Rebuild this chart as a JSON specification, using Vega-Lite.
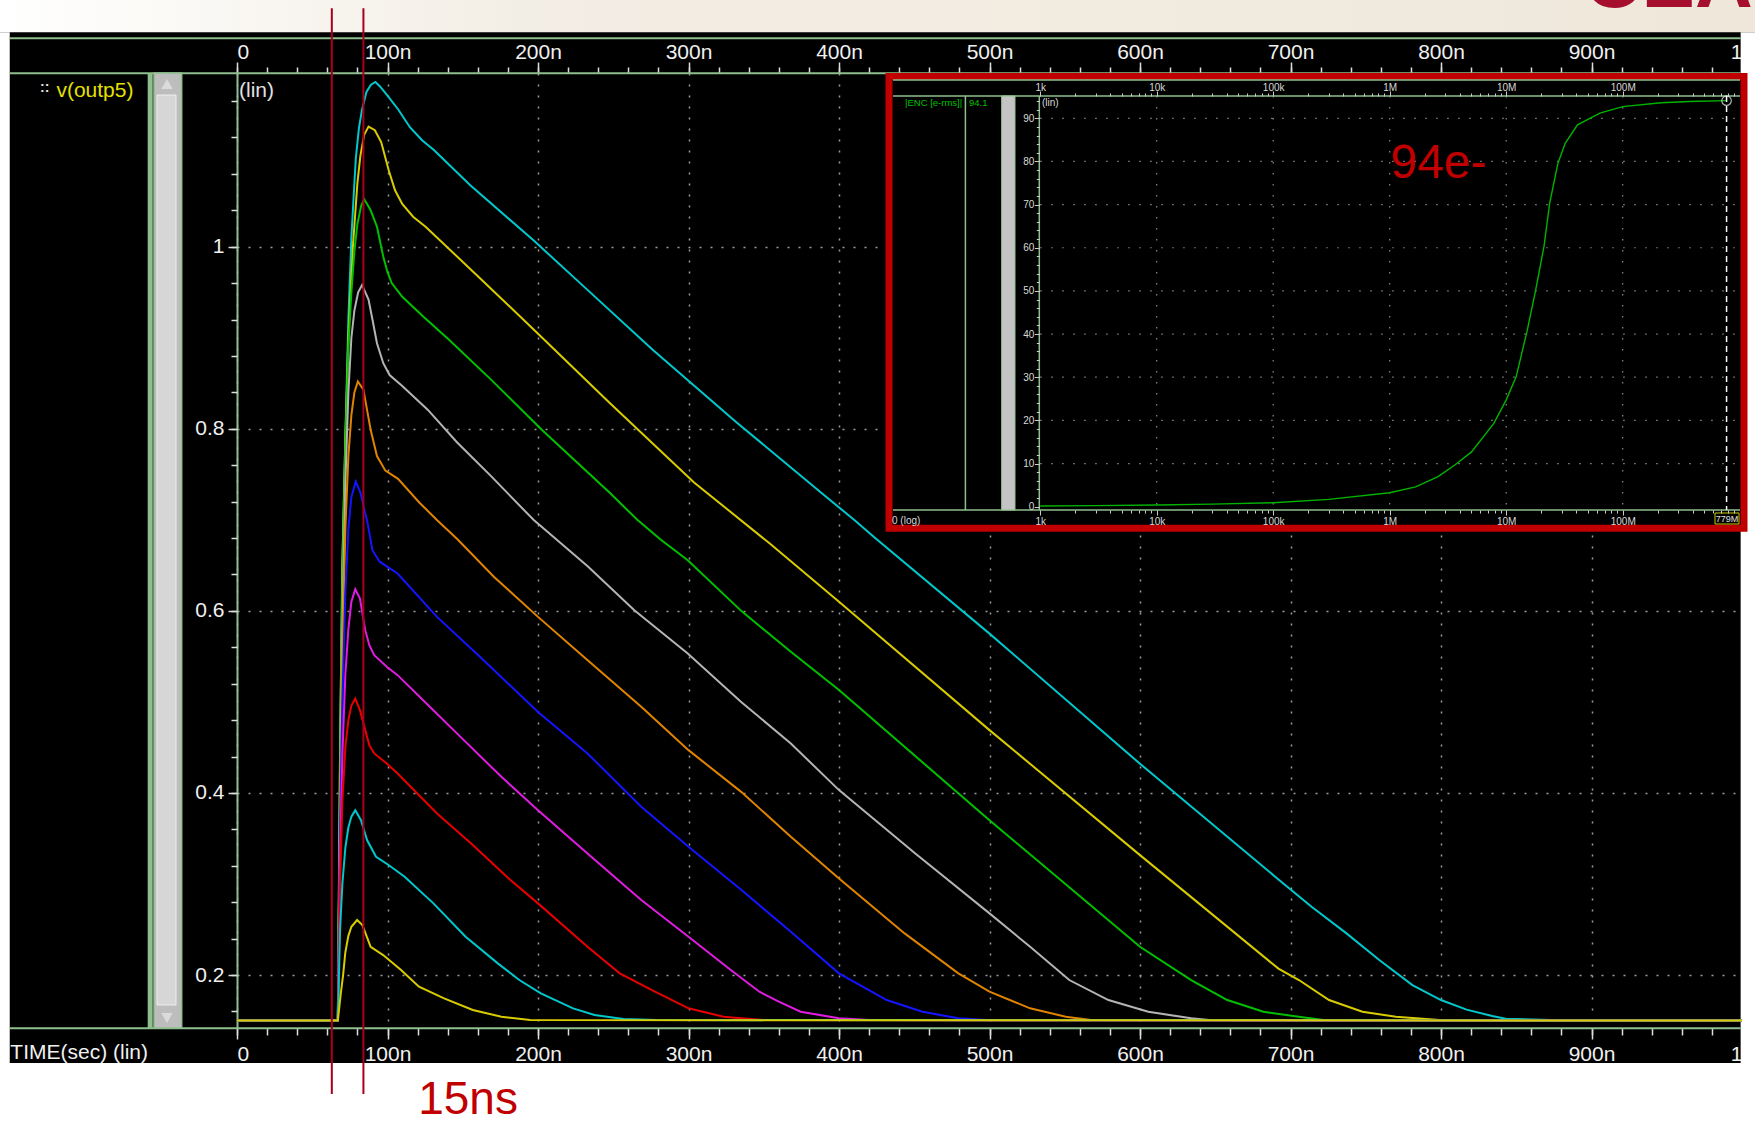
{
"$schema":"https://vega.github.io/schema/vega-lite/v6.json",
"width":1505,"height":955,
"autosize":"none",
"padding":{"left":237,"top":73,"right":13,"bottom":97},
"background":"#000000",
"config":{"view":{"stroke":null}},
"datasets":{
"curves":[
{"run":1,"t":0,"v":0.15},{"run":1,"t":67,"v":0.15},{"run":1,"t":68.5,"v":0.45},{"run":1,"t":70,"v":0.65},{"run":1,"t":72,"v":0.79},{"run":1,"t":74,"v":0.92},{"run":1,"t":76,"v":1.01},{"run":1,"t":78,"v":1.07},{"run":1,"t":79,"v":1.098},{"run":1,"t":81,"v":1.13},{"run":1,"t":83,"v":1.15},{"run":1,"t":86,"v":1.17},{"run":1,"t":89,"v":1.178},{"run":1,"t":92,"v":1.181},{"run":1,"t":95,"v":1.176},{"run":1,"t":100,"v":1.166},{"run":1,"t":107,"v":1.151},{"run":1,"t":115,"v":1.131},{"run":1,"t":123,"v":1.117},{"run":1,"t":131,"v":1.106},{"run":1,"t":155,"v":1.0675},{"run":1,"t":197,"v":1.007},{"run":1,"t":228,"v":0.96},{"run":1,"t":276,"v":0.887},{"run":1,"t":332,"v":0.807},{"run":1,"t":388,"v":0.73},{"run":1,"t":410,"v":0.7},{"run":1,"t":424,"v":0.68},{"run":1,"t":500,"v":0.575},{"run":1,"t":600,"v":0.432},{"run":1,"t":692,"v":0.305},{"run":1,"t":714,"v":0.275},{"run":1,"t":737,"v":0.246},{"run":1,"t":759,"v":0.2165},{"run":1,"t":781,"v":0.189},{"run":1,"t":800,"v":0.1725},{"run":1,"t":817,"v":0.162},{"run":1,"t":834,"v":0.155},{"run":1,"t":843,"v":0.152},{"run":1,"t":873,"v":0.1505},{"run":1,"t":1000,"v":0.15},
{"run":2,"t":0,"v":0.15},{"run":2,"t":67,"v":0.15},{"run":2,"t":68.5,"v":0.45},{"run":2,"t":70,"v":0.65},{"run":2,"t":72,"v":0.79},{"run":2,"t":74,"v":0.9},{"run":2,"t":77,"v":1.0},{"run":2,"t":80,"v":1.07},{"run":2,"t":82,"v":1.1},{"run":2,"t":84.5,"v":1.123},{"run":2,"t":87.4,"v":1.132},{"run":2,"t":91.6,"v":1.128},{"run":2,"t":95.8,"v":1.115},{"run":2,"t":100.8,"v":1.084},{"run":2,"t":105,"v":1.062},{"run":2,"t":109.8,"v":1.047},{"run":2,"t":117,"v":1.033},{"run":2,"t":125.3,"v":1.022},{"run":2,"t":160.4,"v":0.967},{"run":2,"t":199.7,"v":0.905},{"run":2,"t":247.5,"v":0.8285},{"run":2,"t":303.7,"v":0.741},{"run":2,"t":354,"v":0.674},{"run":2,"t":400,"v":0.61},{"run":2,"t":500,"v":0.469},{"run":2,"t":600,"v":0.3317},{"run":2,"t":692,"v":0.207},{"run":2,"t":705.6,"v":0.1945},{"run":2,"t":725.6,"v":0.1725},{"run":2,"t":747.8,"v":0.1597},{"run":2,"t":770,"v":0.1542},{"run":2,"t":799,"v":0.1505},{"run":2,"t":1000,"v":0.15},
{"run":3,"t":0,"v":0.15},{"run":3,"t":67,"v":0.15},{"run":3,"t":68.5,"v":0.42},{"run":3,"t":70,"v":0.62},{"run":3,"t":72,"v":0.78},{"run":3,"t":74,"v":0.89},{"run":3,"t":76,"v":0.95},{"run":3,"t":78,"v":0.995},{"run":3,"t":80,"v":1.025},{"run":3,"t":82.5,"v":1.045},{"run":3,"t":84.6,"v":1.052},{"run":3,"t":88.8,"v":1.04},{"run":3,"t":93,"v":1.022},{"run":3,"t":97.2,"v":0.989},{"run":3,"t":100,"v":0.972},{"run":3,"t":102.8,"v":0.96},{"run":3,"t":109.8,"v":0.945},{"run":3,"t":123.9,"v":0.923},{"run":3,"t":140.7,"v":0.898},{"run":3,"t":168.8,"v":0.854},{"run":3,"t":202.5,"v":0.799},{"run":3,"t":247.5,"v":0.73},{"run":3,"t":266,"v":0.7},{"run":3,"t":281,"v":0.679},{"run":3,"t":299.5,"v":0.6556},{"run":3,"t":335,"v":0.6},{"run":3,"t":368,"v":0.555},{"run":3,"t":400,"v":0.513},{"run":3,"t":500,"v":0.37},{"run":3,"t":600,"v":0.231},{"run":3,"t":634,"v":0.1945},{"run":3,"t":658,"v":0.1725},{"run":3,"t":682,"v":0.1597},{"run":3,"t":705.5,"v":0.1542},{"run":3,"t":722,"v":0.1505},{"run":3,"t":1000,"v":0.15},
{"run":4,"t":0,"v":0.15},{"run":4,"t":67,"v":0.15},{"run":4,"t":68.5,"v":0.4},{"run":4,"t":70,"v":0.58},{"run":4,"t":72,"v":0.74},{"run":4,"t":74,"v":0.84},{"run":4,"t":76,"v":0.9},{"run":4,"t":78,"v":0.93},{"run":4,"t":80.5,"v":0.95},{"run":4,"t":83.1,"v":0.958},{"run":4,"t":87.4,"v":0.942},{"run":4,"t":90,"v":0.92},{"run":4,"t":93,"v":0.894},{"run":4,"t":97.2,"v":0.872},{"run":4,"t":101.4,"v":0.859},{"run":4,"t":109.8,"v":0.847},{"run":4,"t":126.7,"v":0.821},{"run":4,"t":146.3,"v":0.785},{"run":4,"t":168.8,"v":0.748},{"run":4,"t":197,"v":0.7},{"run":4,"t":233,"v":0.649},{"run":4,"t":264,"v":0.6007},{"run":4,"t":299.5,"v":0.5532},{"run":4,"t":335,"v":0.5},{"run":4,"t":368,"v":0.4543},{"run":4,"t":400,"v":0.4031},{"run":4,"t":450.7,"v":0.3335},{"run":4,"t":500,"v":0.2677},{"run":4,"t":527,"v":0.231},{"run":4,"t":553,"v":0.1945},{"run":4,"t":579,"v":0.1725},{"run":4,"t":605.5,"v":0.1597},{"run":4,"t":634,"v":0.1524},{"run":4,"t":646,"v":0.1505},{"run":4,"t":1000,"v":0.15},
{"run":5,"t":0,"v":0.15},{"run":5,"t":67,"v":0.15},{"run":5,"t":68.5,"v":0.38},{"run":5,"t":70,"v":0.55},{"run":5,"t":72,"v":0.69},{"run":5,"t":74,"v":0.77},{"run":5,"t":76,"v":0.815},{"run":5,"t":78,"v":0.84},{"run":5,"t":80.3,"v":0.852},{"run":5,"t":84,"v":0.843},{"run":5,"t":86.5,"v":0.82},{"run":5,"t":88.8,"v":0.799},{"run":5,"t":93,"v":0.77},{"run":5,"t":98.6,"v":0.754},{"run":5,"t":107,"v":0.745},{"run":5,"t":121.1,"v":0.719},{"run":5,"t":133,"v":0.6996},{"run":5,"t":146.3,"v":0.679},{"run":5,"t":171,"v":0.637},{"run":5,"t":200,"v":0.5934},{"run":5,"t":233,"v":0.5458},{"run":5,"t":268.6,"v":0.4946},{"run":5,"t":300,"v":0.447},{"run":5,"t":335,"v":0.4012},{"run":5,"t":368,"v":0.3518},{"run":5,"t":400,"v":0.3061},{"run":5,"t":443.6,"v":0.2457},{"run":5,"t":479.3,"v":0.2018},{"run":5,"t":500,"v":0.1817},{"run":5,"t":527,"v":0.1634},{"run":5,"t":550.7,"v":0.1542},{"run":5,"t":567.4,"v":0.1505},{"run":5,"t":1000,"v":0.15},
{"run":6,"t":0,"v":0.15},{"run":6,"t":67,"v":0.15},{"run":6,"t":68.5,"v":0.36},{"run":6,"t":70,"v":0.5},{"run":6,"t":72,"v":0.62},{"run":6,"t":74,"v":0.69},{"run":6,"t":76,"v":0.725},{"run":6,"t":78.9,"v":0.742},{"run":6,"t":82,"v":0.73},{"run":6,"t":84.5,"v":0.712},{"run":6,"t":86.4,"v":0.6996},{"run":6,"t":90,"v":0.6666},{"run":6,"t":94.8,"v":0.654},{"run":6,"t":106.7,"v":0.641},{"run":6,"t":132.9,"v":0.5934},{"run":6,"t":161.4,"v":0.5495},{"run":6,"t":200,"v":0.489},{"run":6,"t":232.9,"v":0.4434},{"run":6,"t":268.6,"v":0.3848},{"run":6,"t":300,"v":0.3409},{"run":6,"t":335.2,"v":0.2933},{"run":6,"t":368,"v":0.2475},{"run":6,"t":400,"v":0.2018},{"run":6,"t":431.7,"v":0.1725},{"run":6,"t":455.5,"v":0.1597},{"run":6,"t":479.3,"v":0.1524},{"run":6,"t":498.3,"v":0.1505},{"run":6,"t":1000,"v":0.15},
{"run":7,"t":0,"v":0.15},{"run":7,"t":67,"v":0.15},{"run":7,"t":68.5,"v":0.33},{"run":7,"t":70,"v":0.44},{"run":7,"t":72,"v":0.53},{"run":7,"t":74,"v":0.58},{"run":7,"t":76,"v":0.61},{"run":7,"t":78.6,"v":0.6238},{"run":7,"t":81.7,"v":0.6135},{"run":7,"t":85.2,"v":0.5788},{"run":7,"t":88,"v":0.562},{"run":7,"t":91.2,"v":0.5513},{"run":7,"t":99.5,"v":0.5385},{"run":7,"t":106.7,"v":0.5294},{"run":7,"t":128.1,"v":0.4946},{"run":7,"t":151.9,"v":0.4561},{"run":7,"t":175.7,"v":0.4177},{"run":7,"t":200,"v":0.3811},{"run":7,"t":232.9,"v":0.3336},{"run":7,"t":268.6,"v":0.2824},{"run":7,"t":300,"v":0.2421},{"run":7,"t":328.1,"v":0.2055},{"run":7,"t":347.1,"v":0.1817},{"run":7,"t":360,"v":0.1707},{"run":7,"t":374.5,"v":0.1597},{"run":7,"t":400,"v":0.1524},{"run":7,"t":420,"v":0.1505},{"run":7,"t":1000,"v":0.15},
{"run":8,"t":0,"v":0.15},{"run":8,"t":67,"v":0.15},{"run":8,"t":68.5,"v":0.3},{"run":8,"t":70,"v":0.39},{"run":8,"t":72,"v":0.45},{"run":8,"t":74,"v":0.48},{"run":8,"t":76,"v":0.496},{"run":8,"t":78.6,"v":0.5037},{"run":8,"t":81.7,"v":0.4909},{"run":8,"t":85.2,"v":0.469},{"run":8,"t":88,"v":0.452},{"run":8,"t":91.2,"v":0.4434},{"run":8,"t":99.5,"v":0.4324},{"run":8,"t":106.7,"v":0.4214},{"run":8,"t":132.9,"v":0.3775},{"run":8,"t":156.7,"v":0.3427},{"run":8,"t":180.5,"v":0.3061},{"run":8,"t":200,"v":0.2787},{"run":8,"t":232.9,"v":0.231},{"run":8,"t":254.3,"v":0.2018},{"run":8,"t":275.7,"v":0.1835},{"run":8,"t":300,"v":0.1634},{"run":8,"t":323.3,"v":0.1542},{"run":8,"t":349.5,"v":0.1505},{"run":8,"t":1000,"v":0.15},
{"run":9,"t":0,"v":0.15},{"run":9,"t":67,"v":0.15},{"run":9,"t":68.5,"v":0.25},{"run":9,"t":70,"v":0.3},{"run":9,"t":72,"v":0.34},{"run":9,"t":74,"v":0.362},{"run":9,"t":76,"v":0.374},{"run":9,"t":78.6,"v":0.381},{"run":9,"t":82.4,"v":0.37},{"run":9,"t":86.4,"v":0.3482},{"run":9,"t":92.4,"v":0.3299},{"run":9,"t":100.7,"v":0.3208},{"run":9,"t":111.4,"v":0.3079},{"run":9,"t":130.5,"v":0.2787},{"run":9,"t":151.9,"v":0.2421},{"run":9,"t":173.3,"v":0.2128},{"run":9,"t":187.6,"v":0.1945},{"run":9,"t":201.9,"v":0.1799},{"run":9,"t":223.3,"v":0.1634},{"run":9,"t":237.6,"v":0.1561},{"run":9,"t":256.7,"v":0.1517},{"run":9,"t":278,"v":0.1505},{"run":9,"t":1000,"v":0.15},
{"run":10,"t":0,"v":0.15},{"run":10,"t":67,"v":0.15},{"run":10,"t":69,"v":0.18},{"run":10,"t":70.5,"v":0.2},{"run":10,"t":72,"v":0.225},{"run":10,"t":74,"v":0.243},{"run":10,"t":76,"v":0.253},{"run":10,"t":79.8,"v":0.2604},{"run":10,"t":83.3,"v":0.2549},{"run":10,"t":88.8,"v":0.231},{"run":10,"t":97.1,"v":0.2219},{"run":10,"t":109,"v":0.2055},{"run":10,"t":120.9,"v":0.1872},{"run":10,"t":137.6,"v":0.1744},{"run":10,"t":156.7,"v":0.1616},{"run":10,"t":175.7,"v":0.1542},{"run":10,"t":194.8,"v":0.1505},{"run":10,"t":1000,"v":0.15}
],
"enc":[
{"f":1000,"n":0.15},{"f":3000,"n":0.25},{"f":10000,"n":0.39},{"f":30000,"n":0.6},{"f":100000,"n":0.93},{"f":300000,"n":1.7},{"f":1000000,"n":3.24},{"f":1670000,"n":4.6},{"f":2600000,"n":6.95},{"f":3620000,"n":9.66},{"f":5040000,"n":12.7},{"f":7830000,"n":19.3},{"f":9980000,"n":24.7},{"f":12170000,"n":30.1},{"f":15170000,"n":40.9},{"f":17900000,"n":50.2},{"f":21100000,"n":60.3},{"f":23600000,"n":70.3},{"f":27800000,"n":79.6},{"f":32100000,"n":84.2},{"f":40900000,"n":88.5},{"f":63600000,"n":91.2},{"f":100000000,"n":92.7},{"f":214000000,"n":93.6},{"f":372000000,"n":93.9},{"f":779000000,"n":94.1}
],
"markers":[{"t":63.0},{"t":84.0}],
"igridv":[{"f":10000},{"f":100000},{"f":1000000},{"f":10000000},{"f":100000000}],
"igridh":[{"n":10},{"n":20},{"n":30},{"n":40},{"n":50},{"n":60},{"n":70},{"n":80},{"n":90}]
},
"layer":[
{
"layer":[
{"data":{"values":[{}]},"mark":{"type":"rect","clip":false,"fill":{"gradient":"linear","x1":0,"y1":0,"x2":1,"y2":0,"stops":[{"offset":0,"color":"#ffffff"},{"offset":0.3,"color":"#f3eee5"},{"offset":1,"color":"#efe7da"}]}},
 "encoding":{"x":{"datum":-160,"type":"quantitative","axis":null},"x2":{"datum":1012},"y":{"datum":1.3,"type":"quantitative","axis":null},"y2":{"datum":1.2355}}},
{"data":{"values":[{}]},"mark":{"type":"rect","clip":false,"fill":"#ffffff"},
 "encoding":{"x":{"datum":-160,"type":"quantitative","axis":null},"x2":{"datum":-151},"y":{"datum":1.2355,"type":"quantitative","axis":null},"y2":{"datum":0}}},
{"data":{"values":[{}]},"mark":{"type":"rect","clip":false,"fill":"#ffffff"},
 "encoding":{"x":{"datum":999.1,"type":"quantitative","axis":null},"x2":{"datum":1012},"y":{"datum":1.2355,"type":"quantitative","axis":null},"y2":{"datum":0}}},
{"data":{"values":[{}]},"mark":{"type":"rect","clip":false,"fill":"#ffffff"},
 "encoding":{"x":{"datum":-160,"type":"quantitative","axis":null},"x2":{"datum":1012},"y":{"datum":0.1033,"type":"quantitative","axis":null},"y2":{"datum":0}}},
{"data":{"values":[{}]},"mark":{"type":"rule","clip":false,"color":"#8fbf8f","strokeWidth":2},
 "encoding":{"x":{"datum":-151,"type":"quantitative","axis":{"orient":"bottom","title":null,"values":[0,20,40,60,80,100,120,140,160,180,200,220,240,260,280,300,320,340,360,380,400,420,440,460,480,500,520,540,560,580,600,620,640,660,680,700,720,740,760,780,800,820,840,860,880,900,920,940,960,980,1000],"labels":false,"domain":false,"grid":false,"ticks":true,"tickSize":7,"tickWidth":1.5,"tickColor":"#dddddd","zindex":0}},"x2":{"datum":999.1},"y":{"datum":1.2289,"type":"quantitative","axis":null}}},
{"data":{"values":[{}]},"mark":{"type":"rule","clip":false,"color":"#8fbf8f","strokeWidth":2},
 "encoding":{"x":{"datum":-151,"type":"quantitative","axis":{"orient":"top","title":null,"values":[0,20,40,60,80,100,120,140,160,180,200,220,240,260,280,300,320,340,360,380,400,420,440,460,480,500,520,540,560,580,600,620,640,660,680,700,720,740,760,780,800,820,840,860,880,900,920,940,960,980,1000],"labels":false,"domain":false,"grid":false,"ticks":true,"tickSize":6,"tickWidth":1.5,"tickColor":"#dddddd","zindex":0}},"x2":{"datum":999.1},"y":{"datum":1.1905,"type":"quantitative","axis":null}}},
{"data":{"values":[{}]},"mark":{"type":"rule","clip":false,"color":"#8fbf8f","strokeWidth":2},
 "encoding":{"x":{"datum":-151,"type":"quantitative","axis":null},"x2":{"datum":999.1},"y":{"datum":0.1415,"type":"quantitative","axis":null}}},
{"data":{"values":[{}]},"mark":{"type":"rect","clip":false,"fill":"#8fbf8f"},
 "encoding":{"x":{"datum":-59.34,"type":"quantitative","axis":null},"x2":{"datum":-56.01},"y":{"datum":1.1908,"type":"quantitative","axis":null},"y2":{"datum":0.1418}}},
{"data":{"values":[{}]},"mark":{"type":"rect","clip":false,"fill":"#bdbdbd","stroke":"#8fbf8f","strokeWidth":1.5},
 "encoding":{"x":{"datum":-55.15,"type":"quantitative","axis":null},"x2":{"datum":-36.74},"y":{"datum":1.1908,"type":"quantitative","axis":null},"y2":{"datum":0.1418}}},
{"data":{"values":[{}]},"mark":{"type":"rect","clip":false,"fill":"#d6d6d6","stroke":"#eeeeee","strokeWidth":1},
 "encoding":{"x":{"datum":-53.16,"type":"quantitative","axis":null},"x2":{"datum":-40.53},"y":{"datum":1.1666,"type":"quantitative","axis":null},"y2":{"datum":0.1671}}},
{"data":{"values":[{}]},"mark":{"type":"point","clip":false,"shape":"triangle-up","size":130,"filled":true,"color":"#e8e8e8"},
 "encoding":{"x":{"datum":-46.5,"type":"quantitative","axis":null},"y":{"datum":1.1787,"type":"quantitative","axis":null}}},
{"data":{"values":[{}]},"mark":{"type":"point","clip":false,"shape":"triangle-down","size":130,"filled":true,"color":"#e8e8e8"},
 "encoding":{"x":{"datum":-46.5,"type":"quantitative","axis":null},"y":{"datum":0.1528,"type":"quantitative","axis":null}}},
{"data":{"values":[{}]},"mark":{"type":"text","clip":false,"text":"::","font":"Liberation Sans","fontSize":14,"fontWeight":"bold","color":"#e0e0e0","align":"left","baseline":"middle"},
 "encoding":{"x":{"datum":-130.9,"type":"quantitative","axis":null},"y":{"datum":1.1738,"type":"quantitative","axis":null}}},
{"data":{"values":[{}]},"mark":{"type":"text","clip":false,"text":"v(outp5)","font":"Liberation Sans","fontSize":21,"color":"#e4e000","align":"left","baseline":"middle"},
 "encoding":{"x":{"datum":-120,"type":"quantitative","axis":null},"y":{"datum":1.1714,"type":"quantitative","axis":null}}},
{"data":{"values":[{}]},"mark":{"type":"text","clip":false,"text":"(lin)","font":"Liberation Sans","fontSize":21,"color":"#e0e0e0","align":"left","baseline":"middle"},
 "encoding":{"x":{"datum":1.33,"type":"quantitative","axis":null},"y":{"datum":1.1714,"type":"quantitative","axis":null}}},
{"data":{"values":[{}]},"mark":{"type":"text","clip":false,"text":"TIME(sec) (lin)","font":"Liberation Sans","fontSize":21,"color":"#f0f0f0","align":"left","baseline":"middle"},
 "encoding":{"x":{"datum":-150.6,"type":"quantitative","axis":null},"y":{"datum":0.11435,"type":"quantitative","axis":null}}},
{"data":{"name":"curves"},"mark":{"type":"line","strokeWidth":2,"clip":false},
 "encoding":{
  "x":{"field":"t","type":"quantitative","scale":{"domain":[0,1000],"nice":false,"zero":false},
   "axis":{"orient":"bottom","title":null,"values":[0,100,200,300,400,500,600,700,800,900,1000],"labelExpr":"datum.value==0?'0':datum.value==1000?'1':datum.value+'n'","domain":false,"ticks":true,"tickSize":11,"tickWidth":1.5,"tickColor":"#dddddd","labelFont":"Liberation Sans","labelFontSize":21,"labelColor":"#f0f0f0","labelBaseline":"alphabetic","labelPadding":21,"labelFlush":true,"labelOverlap":false,"grid":true,"gridColor":"#9c9c9c","gridDash":[2,9],"gridWidth":1.5,"zindex":0}},
  "y":{"field":"v","type":"quantitative","scale":{"domain":[0.1418,1.1908],"nice":false,"zero":false},
   "axis":{"orient":"left","title":null,"values":[0.2,0.4,0.6,0.8,1],"labelExpr":"datum.value==1?'1':format(datum.value,'.1f')","domain":true,"domainColor":"#8fbf8f","domainWidth":2,"ticks":true,"tickSize":9,"tickWidth":1.5,"tickColor":"#dddddd","labelFont":"Liberation Sans","labelFontSize":21,"labelColor":"#f0f0f0","labelPadding":4,"labelOverlap":false,"labelFlush":false,"grid":true,"gridColor":"#9c9c9c","gridDash":[2,9],"gridWidth":1.5,"zindex":0}},
  "color":{"field":"run","type":"nominal","legend":null,"scale":{"domain":[1,2,3,4,5,6,7,8,9,10],"range":["#00c8cc","#d8cc00","#00c000","#b4b4b4","#e08400","#1414ff","#e01ce0","#e80000","#00c8cc","#d8cc00"]}}
 }},
{"data":{"name":"markers"},"mark":{"type":"rule","clip":false,"color":"#a8001c","strokeWidth":2},
 "encoding":{
  "x":{"field":"t","type":"quantitative","axis":{"orient":"top","title":null,"values":[0,100,200,300,400,500,600,700,800,900,1000],"labelExpr":"datum.value==0?'0':datum.value==1000?'1':datum.value+'n'","domain":false,"ticks":true,"tickSize":11,"tickWidth":1.5,"tickColor":"#dddddd","labelFont":"Liberation Sans","labelFontSize":21,"labelColor":"#f0f0f0","labelBaseline":"alphabetic","labelPadding":4,"labelFlush":true,"labelOverlap":false,"grid":false,"zindex":0}},
  "y":{"datum":1.2619,"type":"quantitative","axis":{"orient":"left","title":null,"values":[0.16,0.2,0.24,0.28,0.32,0.36,0.4,0.44,0.48,0.52,0.56,0.6,0.64,0.68,0.72,0.76,0.8,0.84,0.88,0.92,0.96,1,1.04,1.08,1.12,1.16],"labels":false,"domain":false,"grid":false,"ticks":true,"tickSize":6,"tickWidth":1.5,"tickColor":"#dddddd","zindex":0}},
  "y2":{"datum":0.0693}
 }},
{"data":{"values":[{}]},"mark":{"type":"text","clip":false,"text":"15ns","font":"Liberation Sans","fontSize":46,"color":"#c00000","align":"center","baseline":"alphabetic"},
 "encoding":{"x":{"datum":153.5,"type":"quantitative","axis":null},"y":{"datum":0.0468,"type":"quantitative","axis":null}}},
{"data":{"values":[{}]},"mark":{"type":"text","clip":false,"text":"CEA","font":"Liberation Sans","fontSize":80,"fontWeight":"bold","color":"#a50f2d","align":"center","baseline":"alphabetic"},
 "encoding":{"x":{"datum":951,"type":"quantitative","axis":null},"y":{"datum":1.2636,"type":"quantitative","axis":null}}}
],
"resolve":{"axis":{"x":"independent","y":"independent"}}
},
{
"layer":[
{"data":{"values":[{}]},"mark":{"type":"rect","clip":false,"fill":"#000000","stroke":"#c00000","strokeWidth":7},
 "encoding":{
  "x":{"datum":50.37,"type":"quantitative","scale":{"type":"log","domain":[0.00012752,1056800000],"nice":false},
   "axis":{"orient":"bottom","offset":-518,"title":null,"values":[1000,10000,100000,1000000,10000000,100000000],"labelExpr":"datum.value>=1e6?(datum.value/1e6)+'M':(datum.value/1e3)+'k'","domain":false,"ticks":true,"tickSize":5,"tickWidth":1,"tickColor":"#cccccc","labelFont":"Liberation Sans","labelFontSize":10,"labelColor":"#d8d8d8","labelBaseline":"alphabetic","labelPadding":9,"labelFlush":false,"labelOverlap":false,"grid":false,"zindex":1}},
  "x2":{"datum":1099500000},
  "y":{"datum":99.66,"type":"quantitative","scale":{"domain":[-120.8,100.496],"nice":false,"zero":false},
   "axis":{"orient":"left","offset":-802.3,"title":null,"values":[0,10,20,30,40,50,60,70,80,90],"domain":false,"ticks":true,"tickSize":5,"tickWidth":1,"tickColor":"#cccccc","labelFont":"Liberation Sans","labelFontSize":10,"labelColor":"#d8d8d8","labelPadding":0.5,"labelFlush":false,"labelOverlap":false,"grid":false,"zindex":1}},
  "y2":{"datum":-5.005}
 }},
{"data":{"values":[{}]},"mark":{"type":"rule","clip":false,"color":"#8fbf8f","strokeWidth":1.5},
 "encoding":{"x":{"datum":54.52,"type":"quantitative","scale":{"type":"log"},"axis":null},"x2":{"datum":1016000000},"y":{"datum":98.87,"type":"quantitative","axis":null}}},
{"data":{"values":[{}]},"mark":{"type":"rule","clip":false,"color":"#8fbf8f","strokeWidth":1.5},
 "encoding":{"x":{"datum":54.52,"type":"quantitative","scale":{"type":"log"},"axis":null},"x2":{"datum":1016000000},"y":{"datum":95.17,"type":"quantitative","axis":null}}},
{"data":{"values":[{}]},"mark":{"type":"rule","clip":false,"color":"#8fbf8f","strokeWidth":1.5},
 "encoding":{"x":{"datum":54.52,"type":"quantitative","scale":{"type":"log"},"axis":null},"x2":{"datum":1016000000},"y":{"datum":-0.765,"type":"quantitative","axis":null}}},
{"data":{"values":[{}]},"mark":{"type":"rule","clip":false,"color":"#8fbf8f","strokeWidth":1.5},
 "encoding":{"x":{"datum":228,"type":"quantitative","scale":{"type":"log"},"axis":null},"y":{"datum":95.17,"type":"quantitative","axis":null},"y2":{"datum":-0.765}}},
{"data":{"values":[{}]},"mark":{"type":"rect","clip":false,"fill":"#c4c4c4","stroke":"#8fbf8f","strokeWidth":1},
 "encoding":{"x":{"datum":466.4,"type":"quantitative","scale":{"type":"log"},"axis":null},"x2":{"datum":607.8},"y":{"datum":95.17,"type":"quantitative","axis":null},"y2":{"datum":-0.765}}},
{"data":{"values":[{}]},"mark":{"type":"rule","clip":false,"color":"#8fbf8f","strokeWidth":1.5},
 "encoding":{"x":{"datum":982.4,"type":"quantitative","scale":{"type":"log"},"axis":null},"y":{"datum":95.17,"type":"quantitative","axis":null},"y2":{"datum":-0.765}}},
{"data":{"values":[{}]},"mark":{"type":"text","clip":false,"text":"|ENC [e-rms]|","font":"Liberation Sans","fontSize":9.5,"color":"#00c000","align":"left","baseline":"middle"},
 "encoding":{"x":{"datum":69.1,"type":"quantitative","scale":{"type":"log"},"axis":null},"y":{"datum":93.55,"type":"quantitative","axis":null}}},
{"data":{"values":[{}]},"mark":{"type":"text","clip":false,"text":"94.1","font":"Liberation Sans","fontSize":9.5,"color":"#00c000","align":"left","baseline":"middle"},
 "encoding":{"x":{"datum":244.8,"type":"quantitative","scale":{"type":"log"},"axis":null},"y":{"datum":93.55,"type":"quantitative","axis":null}}},
{"data":{"values":[{}]},"mark":{"type":"text","clip":false,"text":"(lin)","font":"Liberation Sans","fontSize":10,"color":"#d8d8d8","align":"left","baseline":"middle"},
 "encoding":{"x":{"datum":1036,"type":"quantitative","scale":{"type":"log"},"axis":null},"y":{"datum":93.55,"type":"quantitative","axis":null}}},
{"data":{"values":[{}]},"mark":{"type":"text","clip":false,"text":"0 (log)","font":"Liberation Sans","fontSize":10,"color":"#d8d8d8","align":"left","baseline":"middle"},
 "encoding":{"x":{"datum":53.45,"type":"quantitative","scale":{"type":"log"},"axis":null},"y":{"datum":-3.244,"type":"quantitative","axis":null}}},
{"data":{"name":"igridv"},"mark":{"type":"rule","clip":false,"color":"#8a8a8a","strokeWidth":1.2,"strokeDash":[1.5,9.5]},
 "encoding":{
  "x":{"field":"f","type":"quantitative","scale":{"type":"log"},
   "axis":{"orient":"top","offset":-23,"title":null,"values":[1000,10000,100000,1000000,10000000,100000000],"labelExpr":"datum.value>=1e6?(datum.value/1e6)+'M':(datum.value/1e3)+'k'","domain":false,"ticks":true,"tickSize":5,"tickWidth":1,"tickColor":"#cccccc","labelFont":"Liberation Sans","labelFontSize":10,"labelColor":"#d8d8d8","labelBaseline":"alphabetic","labelPadding":1,"labelFlush":false,"labelOverlap":false,"grid":false,"zindex":1}},
  "y":{"datum":95.17,"type":"quantitative","axis":null},"y2":{"datum":-0.765}
 }},
{"data":{"name":"igridh"},"mark":{"type":"rule","clip":false,"color":"#8a8a8a","strokeWidth":1.2,"strokeDash":[1.5,9.5]},
 "encoding":{
  "x":{"datum":1000,"type":"quantitative","scale":{"type":"log"},
   "axis":{"orient":"top","offset":-23,"title":null,"values":[2e3,3e3,4e3,5e3,6e3,7e3,8e3,9e3,2e4,3e4,4e4,5e4,6e4,7e4,8e4,9e4,2e5,3e5,4e5,5e5,6e5,7e5,8e5,9e5,2e6,3e6,4e6,5e6,6e6,7e6,8e6,9e6,2e7,3e7,4e7,5e7,6e7,7e7,8e7,9e7,2e8,3e8,4e8,5e8,6e8,7e8,8e8,9e8],"labels":false,"domain":false,"grid":false,"ticks":true,"tickSize":3,"tickWidth":1,"tickColor":"#cccccc","zindex":1}},
  "x2":{"datum":1016000000},
  "y":{"field":"n","type":"quantitative","axis":null}
 }},
{"data":{"name":"enc"},"mark":{"type":"line","clip":false,"color":"#00b400","strokeWidth":1.4},
 "encoding":{
  "x":{"field":"f","type":"quantitative","scale":{"type":"log"},
   "axis":{"orient":"bottom","offset":-518,"title":null,"values":[2e3,3e3,4e3,5e3,6e3,7e3,8e3,9e3,2e4,3e4,4e4,5e4,6e4,7e4,8e4,9e4,2e5,3e5,4e5,5e5,6e5,7e5,8e5,9e5,2e6,3e6,4e6,5e6,6e6,7e6,8e6,9e6,2e7,3e7,4e7,5e7,6e7,7e7,8e7,9e7,2e8,3e8,4e8,5e8,6e8,7e8,8e8,9e8],"labels":false,"domain":false,"grid":false,"ticks":true,"tickSize":3,"tickWidth":1,"tickColor":"#cccccc","zindex":1}},
  "y":{"field":"n","type":"quantitative",
   "axis":{"orient":"left","offset":-802.3,"title":null,"values":[0,2,4,6,8,10,12,14,16,18,20,22,24,26,28,30,32,34,36,38,40,42,44,46,48,50,52,54,56,58,60,62,64,66,68,70,72,74,76,78,80,82,84,86,88,90,92,94],"labels":false,"domain":false,"grid":false,"ticks":true,"tickSize":3,"tickWidth":1,"tickColor":"#cccccc","zindex":1}}
 }},
{"data":{"values":[{}]},"mark":{"type":"rule","clip":false,"color":"#ffffff","strokeWidth":1.5,"strokeDash":[6,4]},
 "encoding":{"x":{"datum":779000000,"type":"quantitative","scale":{"type":"log"},"axis":null},"y":{"datum":95.17,"type":"quantitative","axis":null},"y2":{"datum":-0.765}}},
{"data":{"values":[{}]},"mark":{"type":"point","clip":false,"shape":"circle","size":90,"filled":false,"color":"#ffffff","strokeWidth":1.2},
 "encoding":{"x":{"datum":779000000,"type":"quantitative","scale":{"type":"log"},"axis":null},"y":{"datum":94.08,"type":"quantitative","axis":null}}},
{"data":{"values":[{}]},"mark":{"type":"rect","clip":false,"fill":"#000000","stroke":"#c8c800","strokeWidth":1},
 "encoding":{"x":{"datum":619800000,"type":"quantitative","scale":{"type":"log"},"axis":null},"x2":{"datum":996100000},"y":{"datum":-1.46,"type":"quantitative","axis":null},"y2":{"datum":-4.01}}},
{"data":{"values":[{}]},"mark":{"type":"text","clip":false,"text":"779M","font":"Liberation Sans","fontSize":9,"color":"#e0e0e0","align":"center","baseline":"middle"},
 "encoding":{"x":{"datum":786000000,"type":"quantitative","scale":{"type":"log"},"axis":null},"y":{"datum":-2.74,"type":"quantitative","axis":null}}},
{"data":{"values":[{}]},"mark":{"type":"text","clip":false,"text":"94e-","font":"Liberation Sans","fontSize":48,"color":"#c00000","align":"center","baseline":"alphabetic"},
 "encoding":{"x":{"datum":2624000,"type":"quantitative","scale":{"type":"log"},"axis":null},"y":{"datum":76.17,"type":"quantitative","axis":null}}}
],
"resolve":{"axis":{"x":"independent","y":"independent"}}
}
],
"resolve":{"scale":{"x":"independent","y":"independent"},"axis":{"x":"independent","y":"independent"}}
}
